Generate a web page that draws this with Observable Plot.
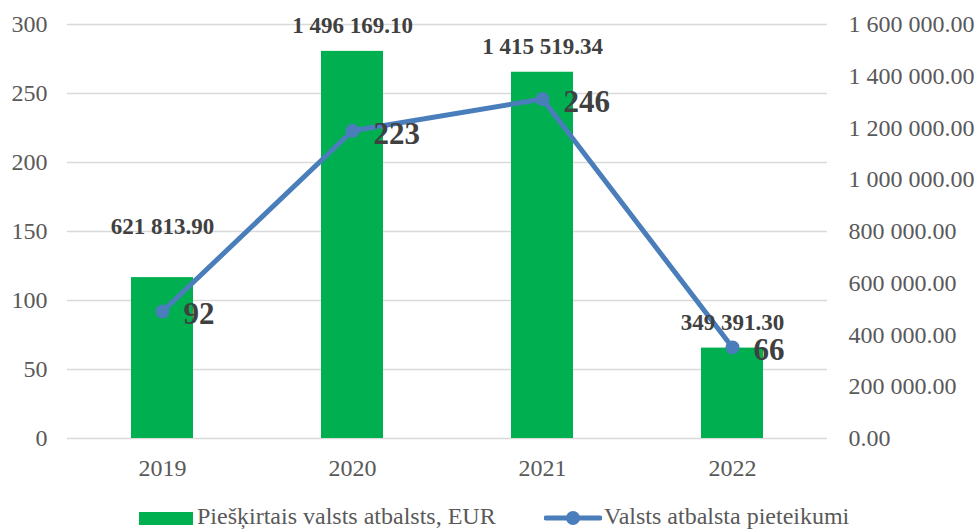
<!DOCTYPE html>
<html><head><meta charset="utf-8">
<script src="https://cdn.jsdelivr.net/npm/d3@7"></script>
<script src="https://cdn.jsdelivr.net/npm/@observablehq/plot@0.6"></script>
<style>
body{margin:0;background:#fff;font-family:"Liberation Serif","Times New Roman",serif;}
#chart{width:975px;height:500px;}
.legend{position:relative;width:975px;height:31px;font-size:24px;color:#595959;}
.legend .t{position:absolute;top:1px;line-height:31px;white-space:nowrap;}
</style></head><body>
<div id="chart"></div>
<div class="legend">
  <div style="position:absolute;left:139px;top:12px;width:54px;height:13px;background:#00B050"></div>
  <span class="t" style="left:197px">Piešķirtais valsts atbalsts, EUR</span>
  <svg style="position:absolute;left:544px;top:8px" width="58" height="20"><line x1="2" y1="10" x2="56" y2="10" stroke="#4A7EBB" stroke-width="5" stroke-linecap="round"/><circle cx="29" cy="10" r="7" fill="#4A7EBB"/></svg>
  <span class="t" style="left:604px">Valsts atbalsta pieteikumi</span>
</div>
<script>
const years = ["2019", "2020", "2021", "2022"];
const grantsEUR = [621813.90, 1496169.10, 1415519.34, 349391.30];
const applications = [92, 223, 246, 66];
const leftTicks = [0, 50, 100, 150, 200, 250, 300];
const rightTicks = [0, 200000, 400000, 600000, 800000, 1000000, 1200000, 1400000, 1600000];

const ratio = 300 / 1600000;
const fmt = v => d3.format(",.2f")(v).replace(/,/g, " ");
const data = years.map((y, i) => ({year: y, eur: grantsEUR[i], eurScaled: grantsEUR[i] * ratio, apps: applications[i], i}));

const chart = Plot.plot({
  width: 975,
  height: 500,
  marginTop: 24,
  marginBottom: 62,
  marginLeft: 67,
  marginRight: 148,
  style: {fontFamily: "Liberation Serif, Times New Roman, serif", background: "#fff"},
  x: {domain: years, padding: 0, label: null},
  y: {domain: [0, 300], label: null},
  marks: [
    Plot.ruleY(leftTicks, {stroke: "#d9d9d9", strokeWidth: 1.5}),
    Plot.barY(data, {x: "year", y: "eurScaled", fill: "#00B050", insetLeft: 64, insetRight: 64}),
    Plot.axisY(leftTicks, {anchor: "left", tickSize: 0, tickPadding: 20, fontSize: 24, color: "#595959", label: null}),
    Plot.axisY(rightTicks.map(v => v * ratio), {anchor: "right", tickSize: 0, tickPadding: 21, fontSize: 24, color: "#595959", label: null, tickFormat: d => fmt(Math.round(d / ratio))}),
    Plot.axisX({tickSize: 0, tickPadding: 20, fontSize: 24, color: "#595959", label: null}),
    Plot.line(data, {x: "year", y: "apps", stroke: "#4A7EBB", strokeWidth: 5}),
    Plot.dot(data, {x: "year", y: "apps", r: 7, fill: "#4A7EBB"}),
    Plot.text(data.filter(d => d.i !== 0), {x: "year", y: "eurScaled", text: d => fmt(d.eur), lineAnchor: "bottom", dy: -18, fontSize: 23, fontWeight: "bold", fill: "#404040"}),
    Plot.text(data.filter(d => d.i === 0), {x: "year", y: "eurScaled", text: d => fmt(d.eur), lineAnchor: "bottom", dy: -44, fontSize: 23, fontWeight: "bold", fill: "#404040"}),
    Plot.text(data, {x: "year", y: "apps", text: d => String(d.apps), textAnchor: "start", lineAnchor: "middle", dx: 21, dy: 3, fontSize: 31, fontWeight: "bold", fill: "#404040"})
  ]
});
document.getElementById("chart").appendChild(chart);
</script>
</body></html>
